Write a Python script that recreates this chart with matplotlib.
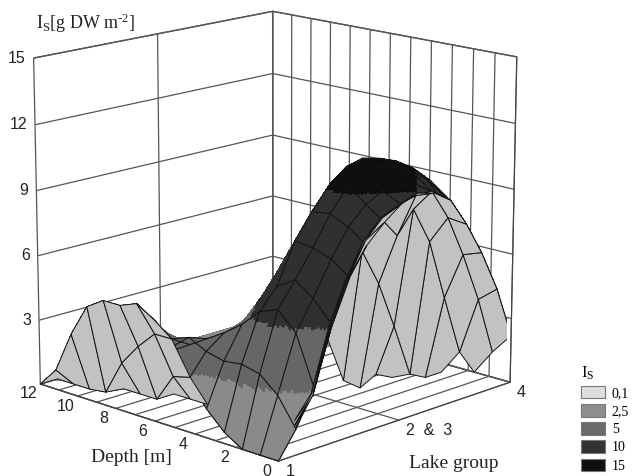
import numpy as np
import matplotlib
matplotlib.use('Agg')
import matplotlib.pyplot as plt
from matplotlib.patches import Patch
from mpl_toolkits.mplot3d import proj3d
from mpl_toolkits.mplot3d.art3d import Poly3DCollection

plt.rcParams['mathtext.fontset'] = 'custom'
plt.rcParams['mathtext.rm'] = 'Liberation Serif'
plt.rcParams['mathtext.default'] = 'rm'

nan = float('nan')

# grid of the surface
depth_m = [0, 0.86, 1.71, 2.57, 3.43, 4.29, 5.14, 6, 6.86, 7.71, 8.57, 9.43, 10.29, 11.14, 12]
lake = [1, 1.21, 1.43, 1.64, 1.86, 2.07, 2.29, 2.5, 2.71, 2.93, 3.14, 3.36, 3.57, 3.79, 4]

upper = [
    [0, 1.15, 2.7, 5.3, 7.1, 8.3, 9.1, 9.7, 10, 9.8, 9.3, 8, 6.5, 4.6, 2.2],
    [0, 2.4, 4.9, 6.2, 7.7, 8.9, 9.7, 10.1, 10.2, 10, 9.5, 8.8, 7.7, 6, 4],
    [0, 3.1, 5.7, 6.8, 8, 9.3, 10.3, 10.6, 10.8, 10.6, 10.1, 9.6, 8.7, 7.5, 6],
    [0.5, 3.3, 5.4, 6.3, 8.1, 9.2, 10.2, 10.8, 11, 10.8, 10.5, 10, 9.2, 8, 6.5],
    [1.3, 3.2, 4.6, 5.2, 6.5, 7.5, 8, 8.5, 8.5, 8.2, 7.5, 6.8, 6, 5, 4],
    [2.4, 3.4, 4, 4.2, 5, 5.5, 6, 6, 6, 5.5, 5, 4.5, 4, 3, 2],
    [3.6, 3.8, 3.5, 3.3, 3.2, 3.2, 3, 3, 3, 3, 3, 2.5, 2, 1.5, 1],
    [4.6, 3.5, 3, 2.8, 2, 2, 2, 2, 2, 2, 2, 1.5, 1, 1, 0.5],
    [5.1, 3.5, 2.5, 2, 1, 1, 1, 1, 1, 1, 1, 1, 0.5, 0.5, 0],
    [4.8, 2.7, 1, 1, 0.5, 0.5, 0.5, 0.5, 0.5, 0.5, 0.5, 0.5, 0, 0, 0],
    [4.8, 1.7, 0, 0, 0, 0, 0, 0, 0, 0, 0, 0, 0, 0, 0],
    [4.3, 0.1, 0, 0, 0, 0, 0, 0, 0, 0, 0, 0, 0, 0, 0],
    [2.8, 0, 0, 0, 0, 0, 0, 0, 0, 0, 0, 0, 0, 0, 0],
    [0.9, 0, 0, 0, 0, 0, 0, 0, 0, 0, 0, 0, 0, 0, 0],
    [0, 0, 0, 0, 0, 0, 0, 0, 0, 0, 0, 0, 0, 0, 0],
]

# the part seen from below, light grey in the reference
under = [
    [nan, 1.15, 2.7, 5.3, 7.1, 8.3, 9.1, 9.7, 10, 9.8, 9.3, 8, 6.5, 4.6, 2.2],
    [nan, nan, 0.7, 1.9, 4.6, 6.6, 8.1, 8.9, 9.3, 9.5, 9.5, 8.1, 6.2, 3.9, 1.2],
    [nan, nan, nan, 0.3, 1.4, 4.2, 6.2, 7.7, 8.5, 7.5, 8.5, 6.8, 4, 1.2, 0],
    [nan, nan, nan, nan, 0, 1, 3.8, 5.7, 6.8, 5.1, 2.9, 0.4, 0, 0, nan],
    [nan, nan, nan, nan, nan, nan, 0.4, 2.8, 0.6, 0, 0.4, 0, nan, nan, nan],
    [nan] * 15,
    [nan] * 15,
    [4.6, 3.5, 1.5, 0, nan, nan, nan, nan, nan, nan, nan, nan, nan, nan, nan],
    [5.1, 3.5, 1.3, 0, nan, nan, nan, nan, nan, nan, nan, nan, nan, nan, nan],
    [4.8, 2.7, 0, 0, nan, nan, nan, nan, nan, nan, nan, nan, nan, nan, nan],
    [4.8, 1.7, 0, nan, nan, nan, nan, nan, nan, nan, nan, nan, nan, nan, nan],
    [4.3, 0.1, 0, nan, nan, nan, nan, nan, nan, nan, nan, nan, nan, nan, nan],
    [2.8, 0, nan, nan, nan, nan, nan, nan, nan, nan, nan, nan, nan, nan, nan],
    [0.9, 0, nan, nan, nan, nan, nan, nan, nan, nan, nan, nan, nan, nan, nan],
    [0, 0, nan, nan, nan, nan, nan, nan, nan, nan, nan, nan, nan, nan, nan],
]

levels = [0.1, 2.5, 5, 10, 15]
level_labels = ['0,1', '2,5', '5', '10', '15']
level_greys = ['#dedede', '#8e8e8e', '#6a6a6a', '#333333', '#101010']
band_greys = ['#8a8a8a', '#8a8a8a', '#666666', '#303030', '#0e0e0e']
under_grey = '#c2c2c2'
line_col = '#141414'

depth_ticks = list(range(13))
depth_labels = {0: '0', 2: '2', 4: '4', 6: '6', 8: '8', 10: '10', 12: '12'}
lake_ticks = [1, 2.5, 4]
lake_labels = ['1', '2  &  3', '4']
is_ticks = [0, 3, 6, 9, 12, 15]
is_labels = ['', '3', '6', '9', '12', '15']


def refine(x, y, z, n):
    # finer cells only so the colour bands do not follow the mesh
    xf = np.interp(np.linspace(0, len(x) - 1, (len(x) - 1) * n + 1), np.arange(len(x)), x)
    yf = np.interp(np.linspace(0, len(y) - 1, (len(y) - 1) * n + 1), np.arange(len(y)), y)
    z = np.array(z, float)
    tmp = np.array([np.interp(yf, y, row) for row in z])
    zf = np.array([np.interp(xf, x, col) for col in tmp.T]).T
    return xf, yf, zf


def tick_label(x, y, z, s, offset, ha):
    # tick labels are placed by hand, mplot3d can only push them along one direction
    px, py, _ = proj3d.proj_transform(x, y, z, ax.get_proj())
    ax.annotate(s, (px, py), xytext=offset, textcoords='offset pixels', ha=ha, va='center',
                family='Liberation Sans', fontsize=11.5, color='#222222', annotation_clip=False)


fig = plt.figure(figsize=(6.32, 4.76), dpi=100)
ax = fig.add_axes([-47 / 632, 9 / 476, 1, 1], projection='3d', computed_zorder=False)
ax.set_proj_type('persp', focal_length=1.2)
ax.view_init(elev=14.9, azim=-45.7)
ax.set_box_aspect((1, 1, 1), zoom=1.19)

ax.set_xlim(12, 0)
ax.set_ylim(1, 4)
ax.set_zlim(0, 15)

ax.set_xticks(depth_ticks)
ax.set_xticklabels([])
ax.set_yticks(lake_ticks)
ax.set_yticklabels([])
ax.set_zticks(is_ticks)
ax.set_zticklabels([])

for axis in (ax.xaxis, ax.yaxis, ax.zaxis):
    axis.set_pane_color((1, 1, 1, 1))
    axis.pane.set_edgecolor('#555555')
    axis.line.set_color('#444444')
    axis._axinfo['grid'].update(color='#555555', linewidth=0.9)
    axis._axinfo['tick'].update(inward_factor=0, outward_factor=0)

for d, s in depth_labels.items():
    tick_label(d, 1, 0, s, (-12, -10), 'center')
for v, s in zip(lake_ticks, lake_labels):
    tick_label(0, v, 0, s, (7, -10), 'left')
for v, s in zip(is_ticks, is_labels):
    tick_label(12, 1, v, s, (-8, 0), 'right')

# upper side, cut into the I_S bands
yf, xf, zf = refine(lake, depth_m, upper, 14)
xg, yg = np.meshgrid(xf, yf, indexing='ij')
zc = (zf[:-1, :-1] + zf[1:, :-1] + zf[:-1, 1:] + zf[1:, 1:]) / 4
idx = np.searchsorted(levels, zc).clip(0, 4)
face = np.array([matplotlib.colors.to_rgba(c) for c in band_greys])[idx]
ax.plot_surface(xg, yg, zf, facecolors=face, shade=False, rstride=1, cstride=1,
                linewidth=0, antialiased=False, zorder=1)

# mesh lines on the visible front of the upper side
upper_arr = np.array(upper)
for i in range(4):
    ax.plot([depth_m[i]] * 15, lake, upper_arr[i], color=line_col, lw=0.8, zorder=2)
for j in range(15):
    ax.plot(depth_m[:4], [lake[j]] * 4, upper_arr[:4, j], color=line_col, lw=0.8, zorder=2)
for i in range(4, 9):
    ax.plot([depth_m[i]] * 3, lake[:3], upper_arr[i, :3], color=line_col, lw=0.8, zorder=2)
for j in range(3):
    ax.plot(depth_m[3:9], [lake[j]] * 6, upper_arr[3:9, j], color=line_col, lw=0.8, zorder=2)

# under side
under_arr = np.array(under, float)
quads = []
for i in range(14):
    for j in range(14):
        cell = under_arr[i:i + 2, j:j + 2]
        if np.isnan(cell).any():
            continue
        quads.append([(depth_m[i], lake[j], cell[0, 0]), (depth_m[i], lake[j + 1], cell[0, 1]),
                      (depth_m[i + 1], lake[j + 1], cell[1, 1]), (depth_m[i + 1], lake[j], cell[1, 0])])
col = Poly3DCollection(quads, facecolors=under_grey, edgecolors=line_col, linewidths=0.7, zorder=3)
ax.add_collection3d(col)

fig.text(36 / 632, 1 - 29 / 476, r'I$_{S}$[g DW m$^{\text{-}2}$]', family='Liberation Serif', fontsize=13, color='#222222')
fig.text(91 / 632, 1 - 462 / 476, 'Depth [m]', family='Liberation Serif', fontsize=14, color='#222222')
fig.text(409 / 632, 1 - 468 / 476, 'Lake group', family='Liberation Serif', fontsize=14, color='#222222')

handles = [Patch(facecolor=c, edgecolor='#777777', lw=0.8) for c in level_greys]
fig.legend(handles, level_labels, loc='lower left', bbox_to_anchor=(570 / 632, -0.016), frameon=False,
           title=r'I$_{S}$', alignment='left', ncol=1, handlelength=1.7, handleheight=1.0,
           labelspacing=0.3, handletextpad=0.5, borderpad=0.3,
           prop={'family': 'Liberation Serif', 'size': 10},
           title_fontproperties={'family': 'Liberation Serif', 'size': 12})

fig.savefig('out.png', dpi=100)
